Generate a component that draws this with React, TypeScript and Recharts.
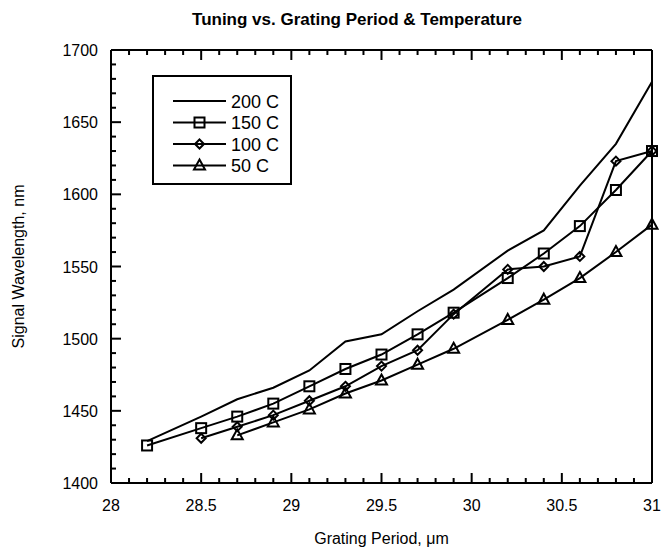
import React from "react";
import { Label, Legend, Line, LineChart, XAxis, YAxis } from "recharts";

// grating period (um) and signal wavelength (nm)
const gratingPeriods = [28.2, 28.5, 28.7, 28.9, 29.1, 29.3, 29.5, 29.7, 29.9, 30.2, 30.4, 30.6, 30.8, 31];
const wl200 = [1429, 1446, 1458, 1466, 1478, 1498, 1503, 1519, 1534, 1561, 1575, 1606, 1635, 1678];
const wl150 = [1426, 1438, 1446, 1455, 1467, 1479, 1489, 1503, 1518, 1542, 1559, 1578, 1603, 1630];
const wl100 = [null, 1431, 1439, 1447, 1457, 1467, 1481, 1492, 1517, 1548, 1550, 1557, 1623, 1630];
const wl50 = [null, null, 1433, 1442, 1451, 1462, 1471, 1482, 1493, 1513, 1527, 1542, 1560, 1579];

const xMajorTicks = [28, 28.5, 29, 29.5, 30, 30.5, 31];
const yMajorTicks = [1400, 1450, 1500, 1550, 1600, 1650, 1700];

type Marker = "none" | "square" | "diamond" | "triangle";

const series: Array<{ key: string; name: string; marker: Marker }> = [
  { key: "t200", name: "200 C", marker: "none" },
  { key: "t150", name: "150 C", marker: "square" },
  { key: "t100", name: "100 C", marker: "diamond" },
  { key: "t50", name: "50 C", marker: "triangle" },
];

const data = gratingPeriods.map((period, i) => ({
  period,
  t200: wl200[i],
  t150: wl150[i],
  t100: wl100[i],
  t50: wl50[i],
}));

function withMinor(major: number[], parts: number): number[] {
  const out: number[] = [];
  major.forEach((v, i) => {
    out.push(v);
    if (i < major.length - 1) {
      const step = (major[i + 1] - v) / parts;
      for (let k = 1; k < parts; k++) out.push(Math.round((v + k * step) * 1000) / 1000);
    }
  });
  return out;
}

const xTicks = withMinor(xMajorTicks, 5);
const yTicks = withMinor(yMajorTicks, 5);

const font = "'Liberation Sans', Arial, sans-serif";

const isMajor = (v: number, majors: number[]) => majors.some((m) => Math.abs(m - v) < 1e-6);

function MarkerShape({ kind, cx, cy }: { kind: Marker; cx: number; cy: number }) {
  const common = { fill: "none", stroke: "#000", strokeWidth: 2 };
  if (kind === "square") return <rect x={cx - 5} y={cy - 5} width={10} height={10} {...common} />;
  if (kind === "diamond")
    return <path d={`M${cx},${cy - 4.5}L${cx + 4.5},${cy}L${cx},${cy + 4.5}L${cx - 4.5},${cy}Z`} {...common} />;
  if (kind === "triangle")
    return <path d={`M${cx},${cy - 6}L${cx + 5.5},${cy + 4}L${cx - 5.5},${cy + 4}Z`} {...common} />;
  return null;
}

// ticks point into the plot, like the original figure
function BottomTick({ x, y, payload }: any) {
  const major = isMajor(payload.value, xMajorTicks);
  return (
    <g>
      <path d={`M${x},${y}V${y - (major ? 10 : 5)}`} stroke="#000" strokeWidth={2} fill="none" />
      {major && (
        <text x={x} y={y + 28} textAnchor="middle" fontSize={16} fontFamily={font} fill="#000">
          {payload.value}
        </text>
      )}
    </g>
  );
}

function TopTick({ x, y, payload }: any) {
  const major = isMajor(payload.value, xMajorTicks);
  return <path d={`M${x},${y}V${y + (major ? 10 : 5)}`} stroke="#000" strokeWidth={2} fill="none" />;
}

function LeftTick({ x, y, payload }: any) {
  const major = isMajor(payload.value, yMajorTicks);
  return (
    <g>
      <path d={`M${x},${y}H${x + (major ? 10 : 5)}`} stroke="#000" strokeWidth={2} fill="none" />
      {major && (
        <text x={x - 13} y={y + 6} textAnchor="end" fontSize={16} fontFamily={font} fill="#000">
          {payload.value}
        </text>
      )}
    </g>
  );
}

function RightTick({ x, y, payload }: any) {
  const major = isMajor(payload.value, yMajorTicks);
  return <path d={`M${x},${y}H${x - (major ? 10 : 5)}`} stroke="#000" strokeWidth={2} fill="none" />;
}

function LegendBox() {
  return (
    <svg width={136} height={106} style={{ display: "block" }}>
      {series.map((s, i) => {
        const y = 24 + i * 21.5;
        return (
          <g key={s.key}>
            <line x1={19} x2={72} y1={y} y2={y} stroke="#000" strokeWidth={2} />
            <MarkerShape kind={s.marker} cx={45.5} cy={y} />
            <text x={77} y={y + 6.5} fontSize={18} fontFamily={font} fill="#000">
              {s.name}
            </text>
          </g>
        );
      })}
    </svg>
  );
}

export default function App() {
  return (
    <div style={{ position: "absolute", left: 0, top: 0, width: 662, height: 553, background: "#fff", fontFamily: font }}>
      <div
        style={{
          position: "absolute",
          left: 357,
          top: 10,
          transform: "translateX(-50%)",
          whiteSpace: "nowrap",
          fontSize: 17,
          fontWeight: "bold",
          color: "#000",
          zIndex: 2,
        }}
      >
        Tuning vs. Grating Period &amp; Temperature
      </div>
      <LineChart width={662} height={553} data={data} margin={{ top: 0, right: 0, bottom: 0, left: 0 }}>
        <XAxis
          dataKey="period"
          type="number"
          domain={[28, 31]}
          ticks={xTicks}
          interval={0}
          height={70}
          tickLine={false}
          tickSize={0}
          tickMargin={0}
          axisLine={{ stroke: "#000", strokeWidth: 2 }}
          tick={(p: any) => <BottomTick {...p} />}
        >
          <Label
            value="Grating Period, μm"
            position="insideBottom"
            offset={9}
            style={{ fontSize: 16, fill: "#000", fontFamily: font }}
          />
        </XAxis>
        <XAxis
          xAxisId="top"
          orientation="top"
          dataKey="period"
          type="number"
          domain={[28, 31]}
          ticks={xTicks}
          interval={0}
          height={50}
          tickLine={false}
          tickSize={0}
          tickMargin={0}
          axisLine={{ stroke: "#000", strokeWidth: 2 }}
          tick={(p: any) => <TopTick {...p} />}
        />
        <YAxis
          type="number"
          domain={[1400, 1700]}
          ticks={yTicks}
          interval={0}
          width={111}
          tickLine={false}
          tickSize={0}
          tickMargin={0}
          axisLine={{ stroke: "#000", strokeWidth: 2 }}
          tick={(p: any) => <LeftTick {...p} />}
        >
          <Label
            value="Signal Wavelength, nm"
            angle={-90}
            position="insideLeft"
            offset={18}
            style={{ fontSize: 16, fill: "#000", fontFamily: font, textAnchor: "middle" }}
          />
        </YAxis>
        <YAxis
          yAxisId="right"
          orientation="right"
          type="number"
          domain={[1400, 1700]}
          ticks={yTicks}
          interval={0}
          width={10}
          tickLine={false}
          tickSize={0}
          tickMargin={0}
          axisLine={{ stroke: "#000", strokeWidth: 2 }}
          tick={(p: any) => <RightTick {...p} />}
        />
        <Legend
          layout="horizontal"
          verticalAlign="middle"
          align="center"
          content={() => <LegendBox />}
          wrapperStyle={{
            left: 152,
            top: 75,
            width: 136,
            height: 106,
            border: "2px solid #000",
            background: "#fff",
          }}
        />
        {series.map((s) => (
          <Line
            key={s.key}
            dataKey={s.key}
            name={s.name}
            stroke="#000"
            strokeWidth={2}
            isAnimationActive={false}
            connectNulls={false}
            dot={
              s.marker === "none"
                ? false
                : (p: any) =>
                    p.cx == null || p.cy == null || p.value == null ? (
                      <g key={`${s.key}-${p.index}`} />
                    ) : (
                      <g key={`${s.key}-${p.index}`}>
                        <MarkerShape kind={s.marker} cx={p.cx} cy={p.cy} />
                      </g>
                    )
            }
            activeDot={false}
          />
        ))}
      </LineChart>
    </div>
  );
}
